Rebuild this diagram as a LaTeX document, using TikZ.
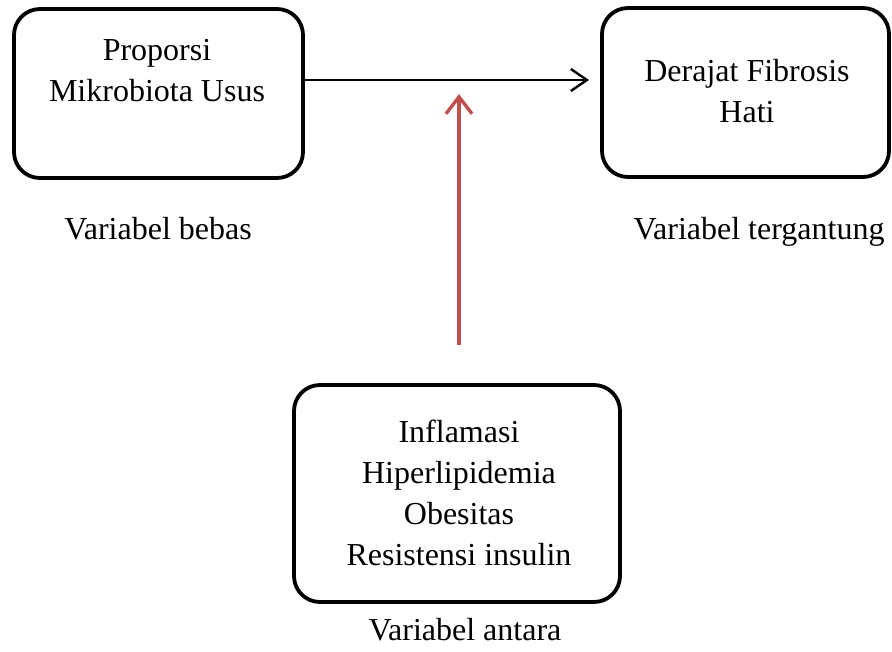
\documentclass[tikz,border=0pt]{standalone}
\usepackage{fontspec}
\setmainfont{Liberation Serif}
\usetikzlibrary{arrows.meta}
\definecolor{redarrow}{RGB}{192,80,77}
\tikzset{
  box/.style={draw=black, line width=3.8pt, rounded corners=26pt, fill=white},
  txt/.style={font=\fontsize{32}{41}\selectfont, align=center, anchor=base, inner sep=0pt},
  lbl/.style={font=\fontsize{32}{41}\selectfont, anchor=base, inner sep=0pt},
  blackarrow/.style={draw=black, line width=2pt, -{Straight Barb[length=16pt,width=22pt,line width=2.4pt]}},
  redarr/.style={draw=redarrow, line width=3.4pt, -{Straight Barb[length=17pt,width=26pt,line width=3.4pt]}}
}
\begin{document}
\begin{tikzpicture}[x=1pt,y=-1pt]
\useasboundingbox (0,0) rectangle (892,652);
% boxes
\node[box, minimum width=289pt, minimum height=169pt] (L) at (158.5,93.5) {};
\node[box, minimum width=287pt, minimum height=169pt] (R) at (745.5,92.5) {};
\node[box, minimum width=326pt, minimum height=217pt] (B) at (457,493.5) {};
% box texts (anchor = baseline of last line)
\node[txt] (Lt) at (157,102) {Proporsi\\Mikrobiota Usus};
\node[txt] (Rt) at (747,123) {Derajat Fibrosis\\Hati};
\node[txt] (Bt) at (459,565) {Inflamasi\\Hiperlipidemia\\Obesitas\\Resistensi insulin};
% labels
\node[lbl] (Ll) at (158,240) {Variabel bebas};
\node[lbl] (Rl) at (759,240) {Variabel tergantung};
\node[lbl] (Bl) at (465,640) {Variabel antara};
% connectors
\coordinate (hs) at (L.east |- 0,80);
\coordinate (he) at (589,80);
\coordinate (vs) at (459,345);
\coordinate (ve) at (459,94);
\draw[blackarrow] (hs) -- (he);
\draw[redarr] (vs) -- (ve);
\end{tikzpicture}
\end{document}
